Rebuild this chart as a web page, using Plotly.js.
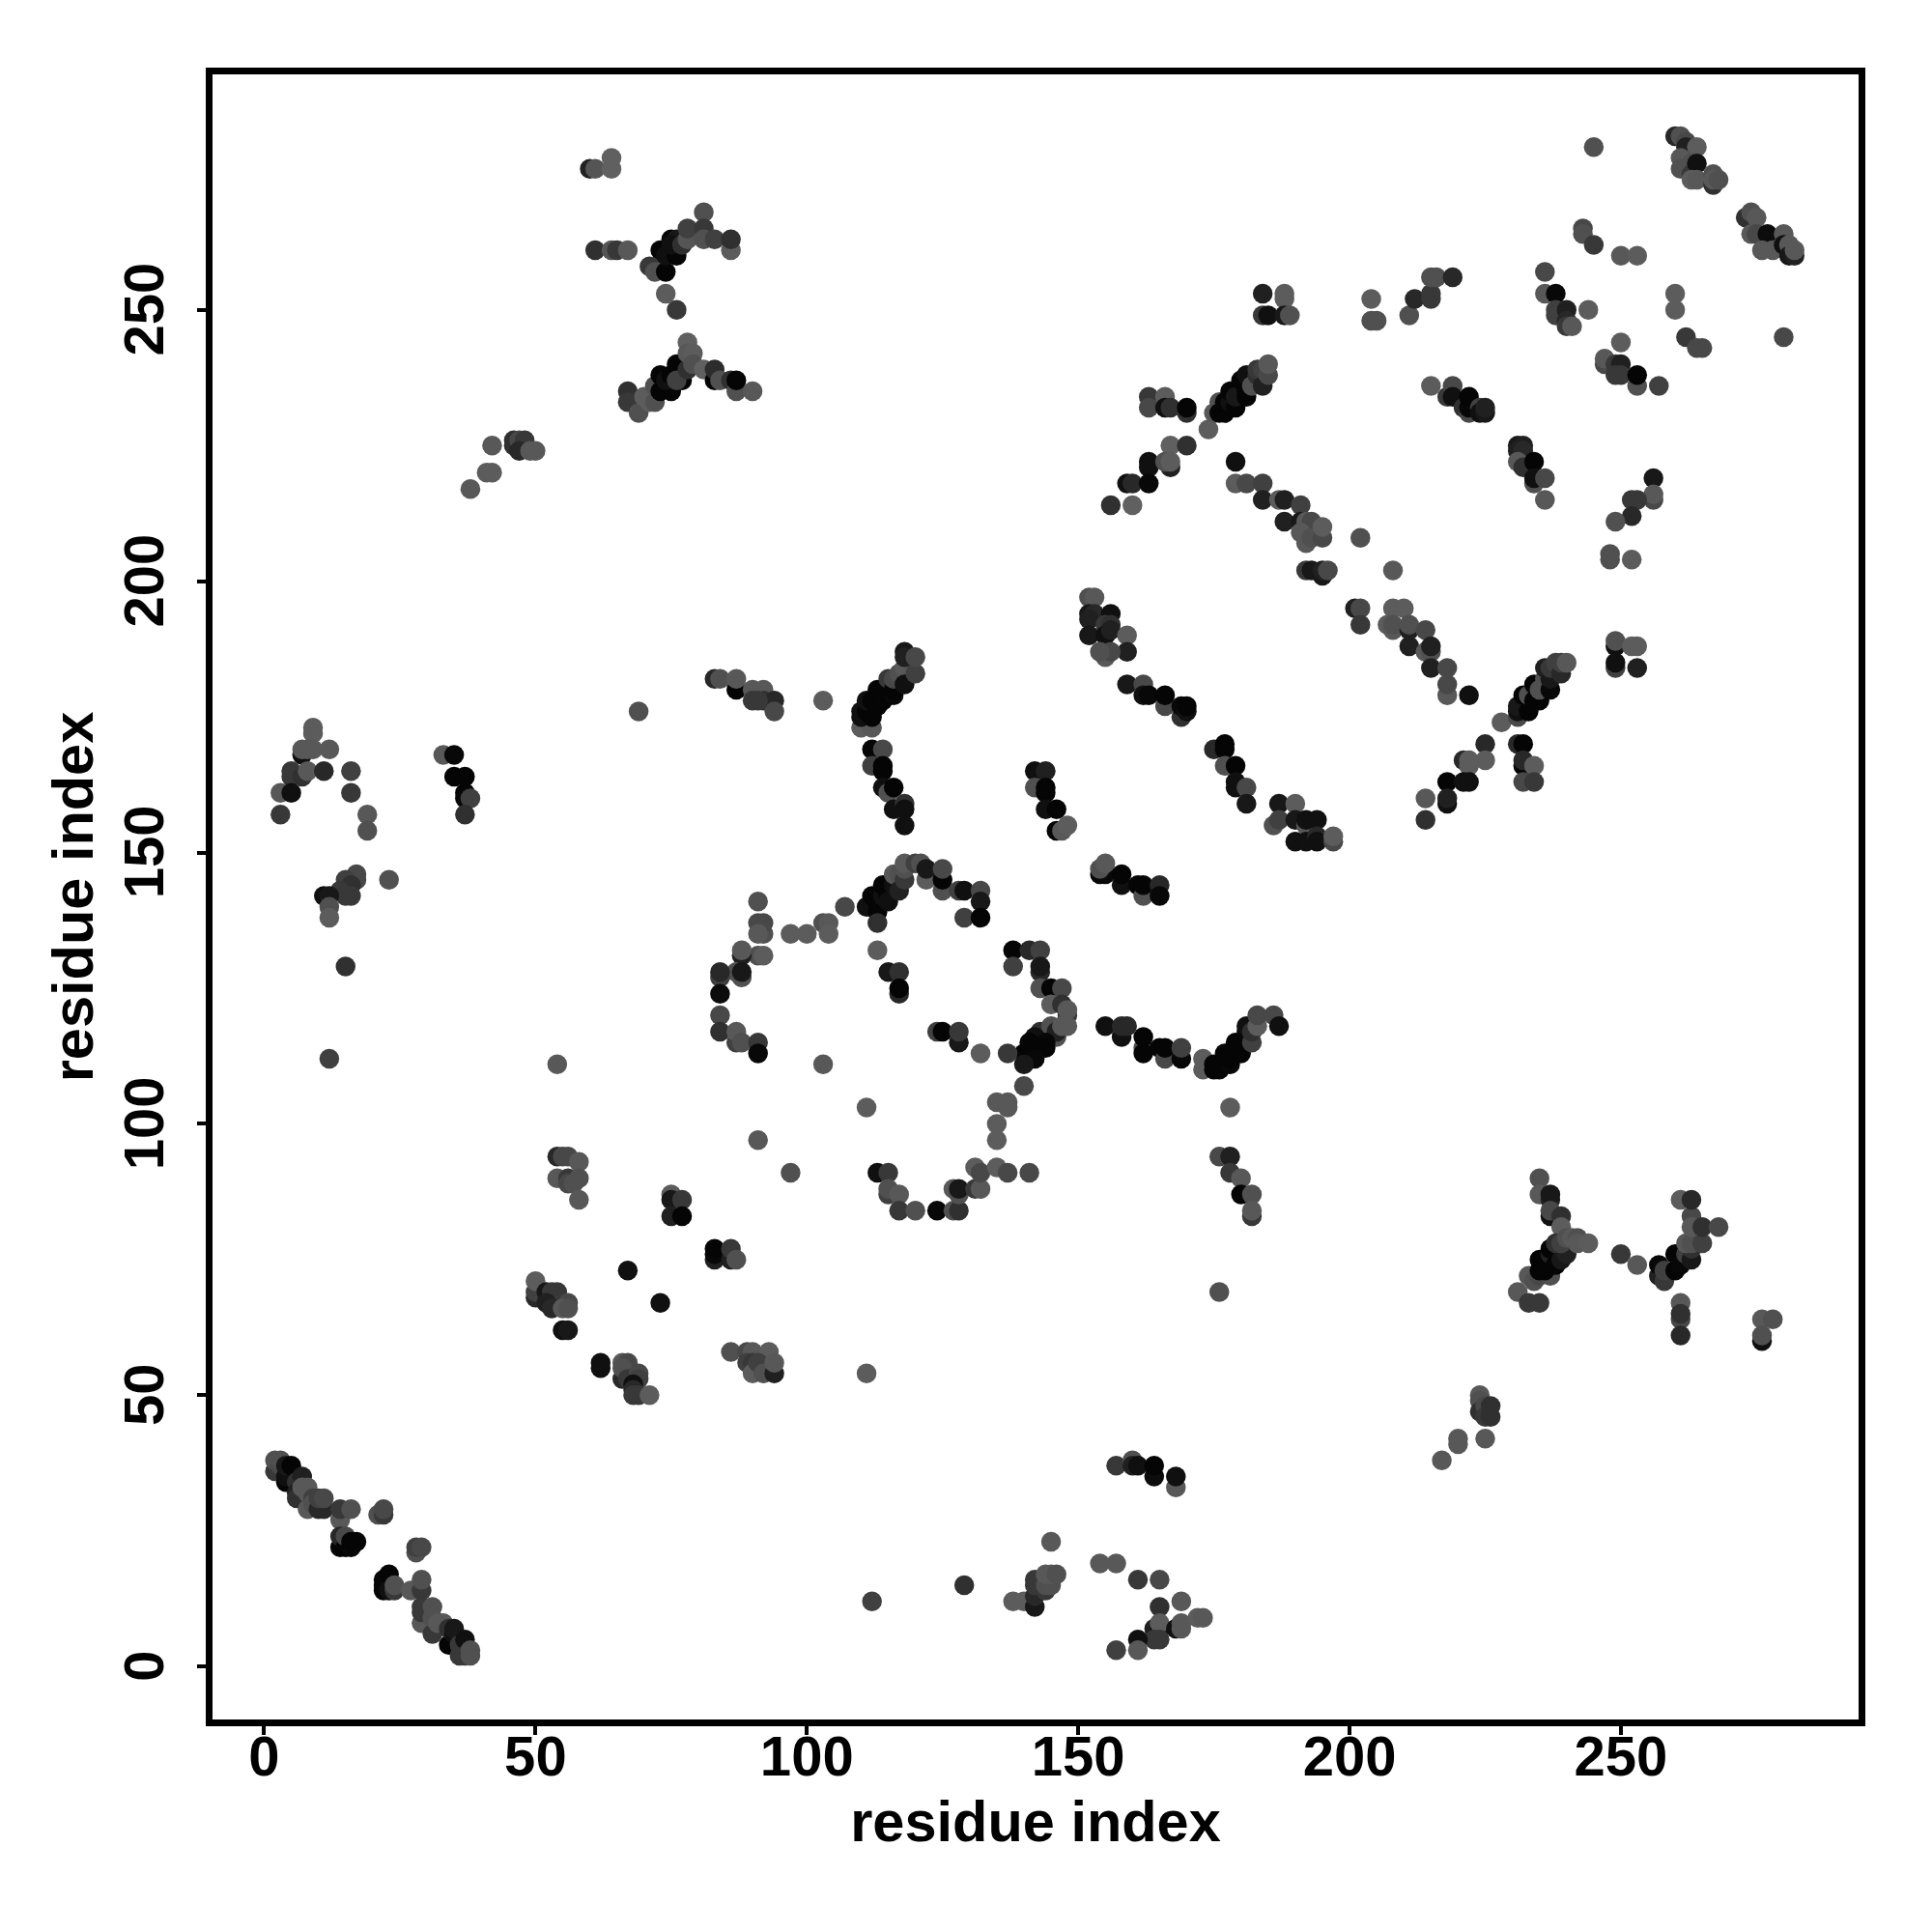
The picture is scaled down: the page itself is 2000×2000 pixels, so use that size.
<!DOCTYPE html>
<html><head><meta charset="utf-8">
<script src="https://cdn.plot.ly/plotly-3.0.0.min.js"></script>
<style>html,body{margin:0;padding:0;background:#fff}</style></head>
<body><div id="plot" style="width:2000px;height:2000px"></div>
<script>
// each contact: [residue index x, residue index y, shade level]
const topIsland=[[60,276,0x22],[61,276,0x55],[64,278,0x60],[64,276,0x60]];
const upperV=[[61,261,0x30],[64,261,0x55],[65,261,0x38],[67,261,0x58],[71,258,0x38],[72,257,0x50],[74,257,0x05],[73,261,0x05],[74,260,0x10],[76,260,0x05],[75,263,0x05],[76,263,0x18],[75,262,0x10],[77,262,0x30],[78,263,0x55],[78,265,0x40],[81,268,0x50],[81,265,0x38],[81,263,0x50],[83,263,0x40],[86,261,0x5c],[86,263,0x30],[74,253,0x5c],[76,250,0x38]];
const lowerV=[[67,235,0x30],[67,233,0x38],[69,231,0x50],[70,234,0x5c],[71,233,0x5c],[72,236,0x50],[72,233,0x50],[73,235,0x05],[73,238,0x05],[75,235,0x05],[74,237,0x10],[75,238,0x05],[76,240,0x05],[77,237,0x05],[76,237,0x40],[78,239,0x30],[78,244,0x60],[78,242,0x58],[79,242,0x5c],[79,240,0x50],[81,239,0x60],[83,237,0x05],[83,239,0x2c],[84,237,0x50],[86,237,0x30],[87,235,0x50],[87,237,0x05],[90,235,0x58]];
const leftIsland=[[42,225,0x58],[38,217,0x58],[41,220,0x5c],[42,220,0x5c],[46,226,0x30],[46,225,0x30],[47,226,0x48],[48,226,0x38],[47,224,0x28],[49,224,0x58],[50,224,0x58]];
const farTop=[[184,253,0x20],[188,253,0x5c],[188,252,0x5c],[184,249,0x38],[185,249,0x10],[188,249,0x18],[189,249,0x50]];
const crossA=[[174,228,0x5c],[175,231,0x58],[176,233,0x50],[176,231,0x05],[177,231,0x05],[177,233,0x05],[178,233,0x10],[178,235,0x05],[179,232,0x05],[179,234,0x18],[180,237,0x05],[181,234,0x05],[181,235,0x05],[181,238,0x10],[182,236,0x50],[183,238,0x30],[183,239,0x38],[184,236,0x20],[184,239,0x40],[185,238,0x48],[185,240,0x58]];
const crossB=[[163,234,0x38],[163,232,0x48],[166,234,0x5c],[166,232,0x10],[167,232,0x30],[170,231,0x30],[170,232,0x05],[167,225,0x60],[170,225,0x30],[163,222,0x10],[163,221,0x10],[167,221,0x20],[166,222,0x50],[167,222,0x5c],[159,218,0x10],[160,218,0x28],[163,218,0x08],[156,214,0x30],[160,214,0x60]];
const strandA=[[179,222,0x10],[179,218,0x5c],[181,218,0x48],[184,218,0x40],[184,215,0x20],[187,215,0x5c],[188,215,0x20],[191,214,0x40],[188,211,0x20],[191,211,0x18],[192,211,0x58],[193,211,0x48],[191,209,0x58],[192,207,0x58],[193,208,0x50],[195,208,0x48],[195,210,0x5c],[202,208,0x50],[192,202,0x38],[193,202,0x18],[195,201,0x18],[195,202,0x20],[196,202,0x48],[208,202,0x58],[201,195,0x20],[202,195,0x48],[202,192,0x38],[208,195,0x5c],[210,195,0x5c],[207,192,0x5c],[208,191,0x58],[208,192,0x50],[211,191,0x20],[211,192,0x50],[214,191,0x48],[211,188,0x20],[214,187,0x58],[215,187,0x50],[215,188,0x20],[215,184,0x20],[218,184,0x48],[218,179,0x58],[218,181,0x48],[222,179,0x10]];
const cornerTR=[[245,280,0x50],[260,282,0x28],[261,282,0x50],[262,281,0x48],[262,280,0x20],[264,280,0x5c],[261,278,0x58],[261,276,0x50],[263,277,0x50],[263,275,0x38],[264,277,0x10],[263,274,0x5c],[264,274,0x58],[267,273,0x30],[267,275,0x50],[267,274,0x58],[268,274,0x50],[273,267,0x30],[274,268,0x50],[275,267,0x58],[274,264,0x58],[275,264,0x48],[277,264,0x0c],[276,261,0x58],[278,261,0x58],[280,264,0x58],[280,262,0x10],[281,262,0x58],[281,260,0x18],[282,260,0x20],[282,261,0x58]];
const rightTop=[[243,265,0x48],[243,264,0x50],[245,262,0x38],[250,260,0x58],[253,260,0x5c],[236,257,0x48],[236,253,0x58],[238,253,0x08],[238,250,0x40],[238,249,0x40],[240,250,0x20],[240,248,0x28],[240,247,0x38],[241,247,0x58],[244,250,0x5c],[260,253,0x5c],[260,250,0x5c],[262,245,0x38],[264,243,0x48],[265,243,0x48],[280,245,0x48]];
const rightMid=[[250,244,0x5c],[247,240,0x48],[247,241,0x58],[249,240,0x38],[250,240,0x20],[249,238,0x38],[250,238,0x38],[253,236,0x50],[253,238,0x05],[257,236,0x40],[215,236,0x5c],[218,234,0x38],[219,236,0x48],[219,234,0x10],[221,232,0x30],[222,231,0x48],[222,232,0x08],[222,234,0x05],[224,232,0x40],[224,231,0x10],[225,231,0x18],[225,232,0x20],[231,225,0x18],[232,225,0x20],[231,224,0x20],[232,224,0x28],[231,222,0x58],[232,221,0x30],[234,222,0x05],[234,218,0x50],[234,219,0x10],[236,219,0x48],[236,215,0x58],[256,219,0x18],[256,215,0x48],[256,216,0x58],[252,215,0x38],[253,215,0x38],[252,212,0x28],[249,211,0x50],[248,205,0x50],[248,204,0x50],[252,204,0x5c],[204,252,0x5c],[204,248,0x50],[205,248,0x50],[211,249,0x50],[212,252,0x28],[215,253,0x38],[215,252,0x38],[215,256,0x50],[216,256,0x50],[219,256,0x28]];
const risingRight=[[225,170,0x28],[228,174,0x5c],[225,167,0x5c],[221,167,0x28],[222,166,0x5c],[222,167,0x5c],[218,163,0x05],[221,163,0x10],[222,163,0x10],[214,160,0x58],[218,159,0x10],[218,160,0x20],[214,156,0x30],[231,170,0x28],[232,170,0x05],[232,166,0x05],[232,167,0x28],[234,166,0x5c],[232,163,0x48],[234,163,0x38],[231,175,0x48],[231,176,0x10],[231,177,0x18],[232,179,0x05],[233,176,0x05],[233,179,0x50],[234,178,0x05],[234,181,0x05],[235,178,0x05],[235,180,0x50],[236,182,0x50],[236,184,0x20],[237,180,0x08],[237,182,0x18],[237,184,0x38],[238,185,0x40],[239,183,0x28],[239,185,0x40],[240,185,0x58],[249,188,0x10],[249,189,0x50],[252,188,0x5c],[253,188,0x5c],[249,184,0x40],[249,185,0x10],[253,184,0x20]];
const strandB=[[152,197,0x50],[153,197,0x58],[152,194,0x18],[153,194,0x28],[156,194,0x10],[152,193,0x20],[155,192,0x38],[156,192,0x30],[152,190,0x18],[155,190,0x10],[156,191,0x20],[159,190,0x5c],[159,187,0x20],[155,186,0x58],[156,187,0x48],[154,187,0x50],[159,181,0x18],[162,181,0x48],[162,179,0x10],[163,179,0x08],[166,177,0x48],[166,179,0x05],[169,175,0x30],[169,177,0x08],[170,176,0x10],[170,177,0x05],[175,169,0x28],[177,170,0x05],[177,169,0x05],[177,166,0x50],[179,166,0x05],[179,163,0x10],[179,162,0x10],[181,162,0x48],[181,159,0x18],[187,159,0x18],[190,159,0x5c],[186,155,0x50],[187,156,0x40],[190,156,0x18],[190,152,0x10],[192,155,0x58],[192,156,0x10],[192,152,0x10],[194,156,0x10],[194,153,0x28],[194,152,0x10],[197,152,0x48],[197,153,0x5c]];
const midLeft=[[92,180,0x58],[92,178,0x30],[94,178,0x28],[94,176,0x48],[103,178,0x5c]];
const helixOne=[[110,173,0x5c],[112,173,0x58],[110,175,0x10],[110,176,0x10],[111,176,0x05],[112,175,0x05],[111,178,0x10],[112,178,0x05],[113,177,0x05],[113,180,0x05],[114,178,0x05],[115,182,0x38],[116,179,0x08],[116,180,0x05],[116,182,0x48],[117,183,0x50],[118,184,0x58],[118,181,0x10],[118,187,0x18],[118,186,0x20],[120,183,0x40],[120,186,0x48]];
const helixOneLow=[[112,169,0x05],[114,169,0x48],[112,166,0x40],[114,166,0x05],[114,165,0x05],[114,162,0x10],[115,161,0x50],[116,162,0x05],[116,158,0x10],[118,159,0x30],[118,158,0x10],[118,155,0x10]];
const hookTwo=[[142,165,0x10],[144,165,0x20],[142,162,0x50],[144,162,0x05],[144,161,0x05],[144,158,0x10],[146,158,0x05],[146,154,0x05],[147,154,0x58],[148,155,0x5c]];
const barTwo=[[154,146,0x08],[155,146,0x08],[154,147,0x50],[155,148,0x58],[158,144,0x10],[158,146,0x05],[161,144,0x05],[162,142,0x50],[162,144,0x05],[165,144,0x28],[165,142,0x08]];
const helixTwo=[[107,140,0x48],[111,140,0x10],[112,142,0x05],[113,141,0x05],[113,139,0x05],[113,137,0x30],[114,142,0x10],[114,144,0x05],[115,142,0x05],[115,141,0x10],[116,144,0x10],[116,146,0x58],[117,146,0x50],[117,143,0x20],[118,145,0x38],[118,147,0x50],[118,148,0x58],[120,148,0x40],[121,148,0x50],[122,145,0x5c],[122,147,0x18],[125,143,0x50],[125,145,0x05],[125,147,0x48],[128,143,0x40],[129,143,0x10],[132,143,0x48],[132,141,0x18],[129,138,0x40],[132,138,0x05]];
const ringLeft=[[103,137,0x50],[104,137,0x58],[104,135,0x5c],[100,135,0x5c],[97,135,0x5c],[92,135,0x50],[92,137,0x48],[91,141,0x50],[91,137,0x48],[91,135,0x58],[91,131,0x50],[92,131,0x5c],[88,131,0x20],[88,132,0x58],[87,128,0x50],[88,127,0x50],[88,128,0x18],[84,127,0x40],[84,128,0x28],[84,124,0x0c],[84,120,0x48],[84,117,0x30],[87,115,0x40],[87,117,0x58],[88,115,0x50],[91,115,0x38],[91,113,0x08]];
const ringInner=[[113,132,0x5c],[115,128,0x18],[117,128,0x30],[117,124,0x28],[117,125,0x05],[124,117,0x40],[125,117,0x05],[128,115,0x18],[128,117,0x38],[132,113,0x5c]];
const ringRight=[[138,132,0x05],[141,132,0x28],[143,132,0x40],[138,129,0x40],[143,128,0x28],[143,129,0x18],[143,125,0x50],[145,125,0x05],[147,125,0x48],[145,122,0x5c],[147,122,0x30],[148,120,0x38],[148,121,0x58],[144,117,0x10],[143,117,0x30],[145,118,0x50],[146,116,0x50],[146,117,0x20],[147,118,0x58],[148,118,0x58],[142,116,0x10],[144,115,0x08],[144,114,0x05],[141,115,0x05],[142,114,0x05],[140,113,0x05],[142,112,0x08],[140,111,0x18],[137,113,0x38],[140,107,0x48]];
const ringLower=[[135,104,0x58],[137,104,0x58],[137,103,0x58],[135,100,0x5c],[135,97,0x5c],[111,103,0x5c],[103,111,0x58],[91,97,0x58],[97,91,0x50],[113,91,0x10],[115,91,0x38],[115,87,0x40],[115,88,0x50],[117,87,0x58],[117,84,0x38],[120,84,0x50],[124,84,0x08],[127,84,0x50],[128,84,0x30],[127,88,0x58],[128,87,0x50],[128,88,0x18],[131,88,0x38],[132,88,0x58],[131,92,0x5c],[132,91,0x48],[135,92,0x5c],[137,91,0x48],[141,91,0x48]];
const wing=[[155,118,0x10],[158,116,0x10],[158,118,0x28],[159,118,0x28],[162,114,0x50],[162,113,0x05],[162,116,0x05],[165,114,0x05],[166,112,0x48],[166,114,0x05],[169,112,0x08],[169,114,0x40],[173,112,0x5c],[173,110,0x5c],[175,110,0x05],[175,111,0x05],[176,110,0x05],[177,113,0x05],[178,111,0x08],[178,112,0x05],[179,115,0x05],[180,113,0x05],[181,117,0x08],[182,115,0x40],[181,118,0x10],[182,117,0x30],[183,118,0x5c],[183,120,0x48],[186,120,0x48],[187,118,0x10],[178,103,0x5c]];
const hookThree=[[176,94,0x48],[178,94,0x20],[178,91,0x38],[180,90,0x58],[180,87,0x05],[182,87,0x50],[182,83,0x38],[182,84,0x58],[176,69,0x50]];
const farLeftA=[[9,173,0x5c],[9,172,0x5c],[7,168,0x10],[7,169,0x58],[8,169,0x58],[9,169,0x58],[12,169,0x58],[5,164,0x38],[5,165,0x38],[7,164,0x30],[8,165,0x58],[11,165,0x28],[16,165,0x40],[16,161,0x38],[3,161,0x58],[5,161,0x10],[3,157,0x38],[19,157,0x58],[19,154,0x50]];
const farLeftB=[[33,168,0x58],[35,168,0x08],[35,164,0x05],[37,164,0x05],[37,161,0x05],[37,160,0x08],[38,160,0x40],[37,157,0x30],[69,176,0x50],[83,182,0x28],[84,182,0x50],[87,180,0x05],[87,182,0x58],[90,180,0x58],[90,178,0x38],[91,178,0x38]];
const farLeftC=[[17,146,0x48],[17,145,0x48],[15,145,0x40],[16,144,0x30],[14,143,0x38],[16,142,0x38],[15,142,0x38],[11,142,0x10],[12,142,0x18],[12,140,0x50],[12,138,0x5c],[23,145,0x50],[15,129,0x30],[12,112,0x40],[54,111,0x58]];
const lowMidA=[[54,94,0x28],[55,94,0x48],[56,94,0x48],[58,93,0x58],[54,90,0x58],[56,90,0x38],[56,89,0x48],[57,89,0x50],[58,90,0x50],[58,86,0x58],[75,87,0x5c],[75,86,0x18],[77,86,0x38],[75,83,0x20],[77,83,0x05],[83,75,0x20],[83,76,0x08],[83,77,0x05],[86,75,0x20],[86,77,0x38],[87,75,0x50],[67,73,0x10],[73,67,0x10]];
const lowMidB=[[50,68,0x28],[50,69,0x40],[50,71,0x5c],[52,69,0x18],[53,69,0x38],[54,69,0x38],[52,67,0x20],[53,66,0x28],[56,67,0x48],[55,66,0x58],[56,66,0x50],[55,62,0x10],[56,62,0x18],[62,56,0x10],[62,55,0x10],[66,53,0x28],[66,56,0x58],[67,56,0x48],[66,55,0x50],[67,53,0x38],[69,54,0x48],[69,53,0x40],[68,52,0x10],[68,51,0x28],[68,50,0x38],[69,50,0x38],[71,50,0x5c]];
const lowMidC=[[86,58,0x50],[89,58,0x48],[90,58,0x58],[89,56,0x40],[90,56,0x38],[90,54,0x5c],[93,58,0x5c],[91,56,0x40],[92,54,0x50],[94,54,0x20],[94,56,0x58],[111,54,0x5c]];
const antiDiagonal=[[2,36,0x38],[2,38,0x50],[3,37,0x48],[3,38,0x50],[4,34,0x05],[4,35,0x10],[4,37,0x18],[5,37,0x05],[6,34,0x30],[7,35,0x20],[6,32,0x20],[6,31,0x30],[7,33,0x58],[8,33,0x58],[8,32,0x58],[8,29,0x58],[9,31,0x40],[9,30,0x50],[10,29,0x28],[11,29,0x28],[10,31,0x40],[11,31,0x48],[14,27,0x58],[14,29,0x38],[16,29,0x50],[21,28,0x50],[22,28,0x38],[22,29,0x48],[14,22,0x05],[14,24,0x28],[15,22,0x05],[15,24,0x48],[16,22,0x08],[16,23,0x05],[17,23,0x05],[28,21,0x50],[28,22,0x40],[29,22,0x48],[22,14,0x05],[22,15,0x08],[22,16,0x08],[23,17,0x05],[23,14,0x10],[24,14,0x38],[24,15,0x50],[27,14,0x58],[29,14,0x38],[29,16,0x50],[29,8,0x58],[29,10,0x38],[29,11,0x38],[31,6,0x38],[31,9,0x50],[31,11,0x50],[32,8,0x58],[33,8,0x58],[34,4,0x05],[34,7,0x30],[35,6,0x10],[35,7,0x18],[36,2,0x38],[36,4,0x38],[37,5,0x10],[37,2,0x38],[38,2,0x50],[38,3,0x50]];
const lowerMiddle=[[157,37,0x38],[160,38,0x50],[160,37,0x20],[161,37,0x10],[164,35,0x0c],[164,37,0x05],[168,33,0x58],[168,35,0x10],[145,23,0x58],[154,19,0x58],[157,19,0x58],[161,16,0x38],[165,16,0x48],[129,15,0x30],[112,12,0x40],[138,12,0x5c],[140,12,0x5c],[142,11,0x18],[142,13,0x28],[142,15,0x38],[142,16,0x38],[144,14,0x38],[144,15,0x50],[145,15,0x50],[144,17,0x58],[145,17,0x58],[146,17,0x50],[165,11,0x30],[169,12,0x58],[164,7,0x20],[165,7,0x10],[165,8,0x5c],[168,7,0x10],[169,7,0x58],[169,8,0x58],[172,9,0x5c],[173,9,0x58],[164,5,0x38],[165,5,0x38],[161,5,0x10],[161,3,0x58],[157,3,0x40]];
const lowerRightA=[[235,90,0x50],[235,87,0x58],[237,86,0x20],[237,87,0x18],[237,83,0x10],[237,84,0x48],[239,83,0x30],[239,81,0x5c],[233,72,0x58],[234,71,0x50],[231,69,0x58],[233,67,0x38],[235,67,0x38],[235,72,0x48],[237,72,0x50],[235,73,0x05],[236,73,0x05],[235,75,0x05],[237,76,0x20],[237,77,0x05],[238,74,0x05],[239,75,0x18],[240,76,0x20],[238,78,0x30],[239,78,0x40],[240,79,0x50],[241,79,0x58],[242,79,0x50],[242,78,0x58],[244,78,0x5c]];
const lowerRightB=[[250,76,0x38],[253,74,0x58],[257,72,0x20],[257,74,0x08],[258,71,0x38],[258,73,0x40],[260,73,0x05],[260,76,0x05],[261,74,0x08],[262,76,0x40],[263,75,0x18],[263,77,0x30],[262,78,0x58],[263,78,0x50],[265,78,0x40],[263,83,0x48],[263,81,0x58],[265,81,0x30],[268,81,0x48],[261,86,0x5c],[263,86,0x28],[261,67,0x58],[261,64,0x48],[261,65,0x30],[261,61,0x28],[276,64,0x58],[278,64,0x50],[276,60,0x10],[276,61,0x50]];
const lowerRightC=[[224,50,0x58],[224,49,0x50],[224,47,0x30],[225,48,0x48],[225,46,0x38],[226,46,0x30],[226,48,0x30],[220,42,0x58],[220,41,0x58],[225,42,0x58],[217,38,0x58]];

const groups=[topIsland,upperV,lowerV,leftIsland,farTop,crossA,crossB,strandA,cornerTR,rightTop,rightMid,risingRight,strandB,midLeft,helixOne,helixOneLow,hookTwo,barTwo,helixTwo,ringLeft,ringInner,ringRight,ringLower,wing,hookThree,farLeftA,farLeftB,farLeftC,lowMidA,lowMidB,lowMidC,antiDiagonal,lowerMiddle,lowerRightA,lowerRightB,lowerRightC];
const tickVals=[0,50,100,150,200,250];
const all=groups.flat();
const family='"Liberation Sans",Arimo,Helvetica,Arial,sans-serif';
const tickF={family:family,size:58,color:'#000',weight:700};
const titleF={family:family,size:59.5,color:'#000',weight:700};
function axis(range){return {title:{text:'<b>residue index</b>',font:titleF},range:range,tickmode:'array',tickvals:tickVals,ticktext:tickVals.map(v=>'<b>'+v+'</b>'),tickfont:tickF,ticks:'outside',ticklen:9,tickwidth:4,tickcolor:'#000',showline:true,mirror:true,linewidth:7,linecolor:'#000',showgrid:false,zeroline:false,automargin:false};}
const xa=axis([-9.52,293.8]);xa.title.standoff=18;xa.ticklabelstandoff=-28;
const ya=axis([-9.75,293.4]);ya.tickangle=-90;ya.title.standoff=2;ya.ticklabelstandoff=12;
ya.ticktext=tickVals.map(v=>'<b>'+v+'&nbsp;</b>');
Plotly.newPlot('plot',[{type:'scatter',mode:'markers',x:all.map(p=>p[0]),y:all.map(p=>p[1]),marker:{size:20.5,line:{width:0},color:all.map(p=>`rgb(${p[2]},${p[2]},${p[2]})`),opacity:1},hoverinfo:'skip',cliponaxis:true}],{width:2000,height:2000,margin:{l:219.5,r:75.5,t:76.5,b:219.5,pad:0},paper_bgcolor:'#fff',plot_bgcolor:'#fff',showlegend:false,xaxis:xa,yaxis:ya},{displayModeBar:false,staticPlot:true});
</script></body></html>
